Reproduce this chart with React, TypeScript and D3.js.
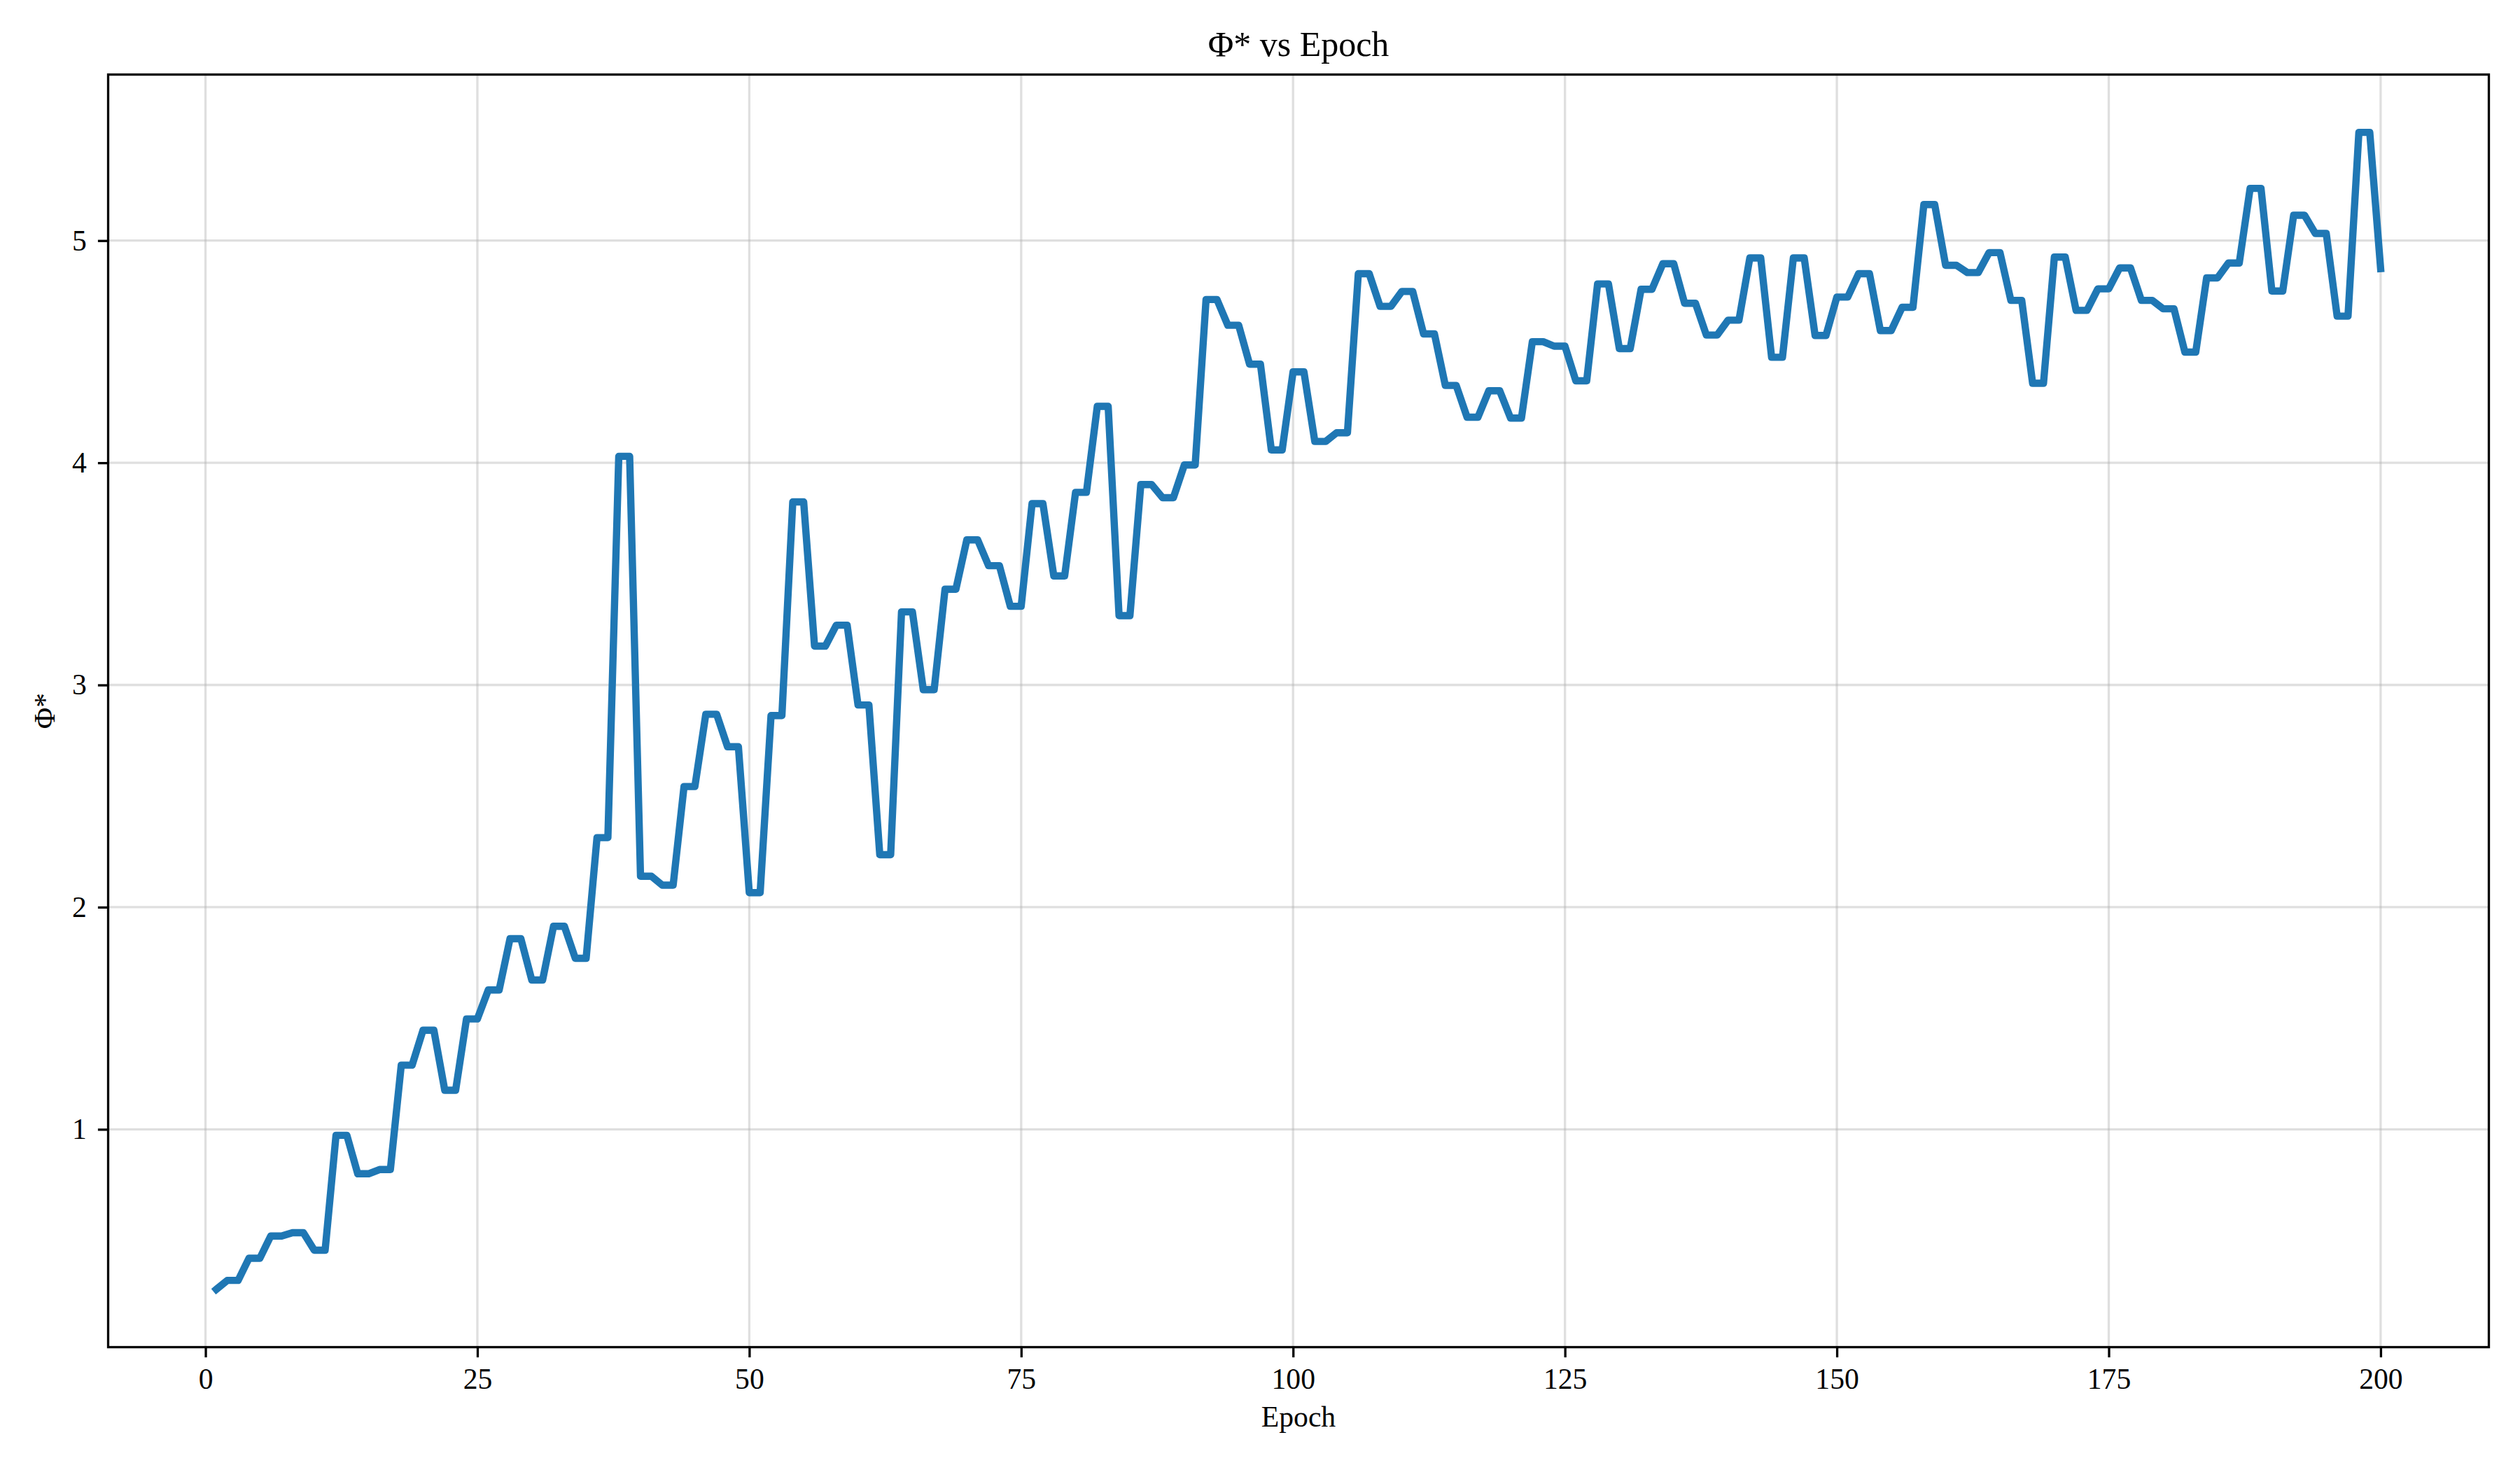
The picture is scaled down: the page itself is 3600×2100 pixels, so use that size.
import { useEffect, useMemo, useRef } from 'react';
import * as d3 from 'd3';

const width = 3600;
const height = 2100;
const margin = { top: 106.5, right: 44.5, bottom: 175.5, left: 154.5 };

// Φ* per epoch (1..200)
const phi = [
  0.28,
  0.32, 0.32, 0.42, 0.42, 0.52, 0.52, 0.535, 0.535, 0.456, 0.456,
  0.973, 0.973, 0.80, 0.80, 0.819, 0.819, 1.289, 1.289, 1.446, 1.446,
  1.176, 1.176, 1.497, 1.497, 1.627, 1.627, 1.858, 1.858, 1.672, 1.672,
  1.914, 1.914, 1.770, 1.770, 2.313, 2.313, 4.029, 4.029, 2.139, 2.139,
  2.099, 2.099, 2.543, 2.543, 2.868, 2.868, 2.722, 2.722, 2.065, 2.065,
  2.862, 2.862, 3.824, 3.824, 3.175, 3.175, 3.269, 3.269, 2.910, 2.910,
  2.236, 2.236, 3.329, 3.329, 2.979, 2.979, 3.431, 3.431, 3.653, 3.653,
  3.537, 3.537, 3.354, 3.354, 3.816, 3.816, 3.491, 3.491, 3.867, 3.867,
  4.254, 4.254, 3.312, 3.312, 3.902, 3.902, 3.843, 3.843, 3.990, 3.990,
  4.735, 4.735, 4.619, 4.619, 4.444, 4.444, 4.058, 4.058, 4.409, 4.409,
  4.096, 4.096, 4.135, 4.135, 4.851, 4.851, 4.704, 4.704, 4.771, 4.771,
  4.580, 4.580, 4.348, 4.348, 4.205, 4.205, 4.324, 4.324, 4.201, 4.201,
  4.545, 4.545, 4.525, 4.525, 4.369, 4.369, 4.805, 4.805, 4.514, 4.514,
  4.781, 4.781, 4.896, 4.896, 4.718, 4.718, 4.575, 4.575, 4.642, 4.642,
  4.922, 4.922, 4.475, 4.475, 4.922, 4.922, 4.573, 4.573, 4.746, 4.746,
  4.851, 4.851, 4.595, 4.595, 4.700, 4.700, 5.162, 5.162, 4.889, 4.889,
  4.856, 4.856, 4.946, 4.946, 4.731, 4.731, 4.358, 4.358, 4.926, 4.926,
  4.686, 4.686, 4.783, 4.783, 4.877, 4.877, 4.731, 4.731, 4.693, 4.693,
  4.498, 4.498, 4.832, 4.832, 4.899, 4.899, 5.235, 5.235, 4.773, 4.773,
  5.114, 5.114, 5.032, 5.032, 4.660, 4.660, 5.487, 5.487,
  4.874,
];
const epochs = phi.map((_, i) => i + 1);

const xTicks = [0, 25, 50, 75, 100, 125, 150, 175, 200];
const yTicks = [1, 2, 3, 4, 5];

const font = '"Liberation Serif", "Times New Roman", serif';
const fontSize = 41.67;
const titleSize = 50;
const tickLen = 14.6;

// matplotlib style 5% padding
const padded = (lo: number, hi: number) => {
  const m = (hi - lo) * 0.05;
  return [lo - m, hi + m];
};

const App = () => {
  const xAxisRef = useRef<SVGGElement>(null);
  const yAxisRef = useRef<SVGGElement>(null);
  const boundsWidth = width - margin.left - margin.right;
  const boundsHeight = height - margin.top - margin.bottom;

  const xScale = useMemo(() => {
    const [a, b] = d3.extent(epochs) as [number, number];
    return d3.scaleLinear().domain(padded(a, b)).range([0, boundsWidth]);
  }, [boundsWidth]);

  const yScale = useMemo(() => {
    const [a, b] = d3.extent(phi) as [number, number];
    return d3.scaleLinear().domain(padded(a, b)).range([boundsHeight, 0]);
  }, [boundsHeight]);

  useEffect(() => {
    const gx = d3.select(xAxisRef.current);
    gx.selectAll('*').remove();
    gx.call(
      d3.axisBottom(xScale).tickValues(xTicks).tickSize(tickLen).tickPadding(15).tickFormat(d3.format('d'))
    );
    gx.select('.domain').remove();
    gx.selectAll('line').attr('stroke', '#000').attr('stroke-width', 3.3);
    gx.selectAll('text').attr('font-family', font).attr('font-size', fontSize).attr('fill', '#000');

    const gy = d3.select(yAxisRef.current);
    gy.selectAll('*').remove();
    gy.call(
      d3.axisLeft(yScale).tickValues(yTicks).tickSize(tickLen).tickPadding(16).tickFormat(d3.format('d'))
    );
    gy.select('.domain').remove();
    gy.selectAll('line').attr('stroke', '#000').attr('stroke-width', 3.3);
    gy.selectAll('text').attr('font-family', font).attr('font-size', fontSize).attr('fill', '#000');
  }, [xScale, yScale]);

  const linePath = d3
    .line<number>()
    .x((_, i) => xScale(epochs[i]))
    .y((d) => yScale(d))(phi);

  return (
    <div style={{ position: 'absolute', left: 0, top: 0 }}>
      <svg width={width} height={height} style={{ display: 'block', background: '#fff' }}>
        <text
          x={margin.left + boundsWidth / 2}
          y={80}
          textAnchor="middle"
          fontFamily={font}
          fontSize={titleSize}
        >
          Φ* vs Epoch
        </text>
        <text
          x={margin.left + boundsWidth / 2}
          y={2038}
          textAnchor="middle"
          fontFamily={font}
          fontSize={fontSize}
        >
          Epoch
        </text>
        <text
          transform={`translate(78, ${margin.top + boundsHeight / 2}) rotate(-90)`}
          textAnchor="middle"
          fontFamily={font}
          fontSize={fontSize}
        >
          Φ*
        </text>

        <g transform={`translate(${margin.left}, ${margin.top})`}>
          {/* grid */}
          {xTicks.map((t) => (
            <line
              key={'gx' + t}
              x1={xScale(t)}
              x2={xScale(t)}
              y1={0}
              y2={boundsHeight}
              stroke="#b0b0b0"
              strokeOpacity={0.4}
              strokeWidth={3.3}
            />
          ))}
          {yTicks.map((t) => (
            <line
              key={'gy' + t}
              x1={0}
              x2={boundsWidth}
              y1={yScale(t)}
              y2={yScale(t)}
              stroke="#b0b0b0"
              strokeOpacity={0.4}
              strokeWidth={3.3}
            />
          ))}

          <path
            d={linePath || ''}
            fill="none"
            stroke="#1f77b4"
            strokeWidth={10.4}
            strokeLinejoin="round"
            strokeLinecap="square"
          />

          <rect
            x={0}
            y={0}
            width={boundsWidth}
            height={boundsHeight}
            fill="none"
            stroke="#000"
            strokeWidth={3.3}
          />
          <g ref={xAxisRef} transform={`translate(0, ${boundsHeight})`} />
          <g ref={yAxisRef} />
        </g>
      </svg>
    </div>
  );
};

export default App;
